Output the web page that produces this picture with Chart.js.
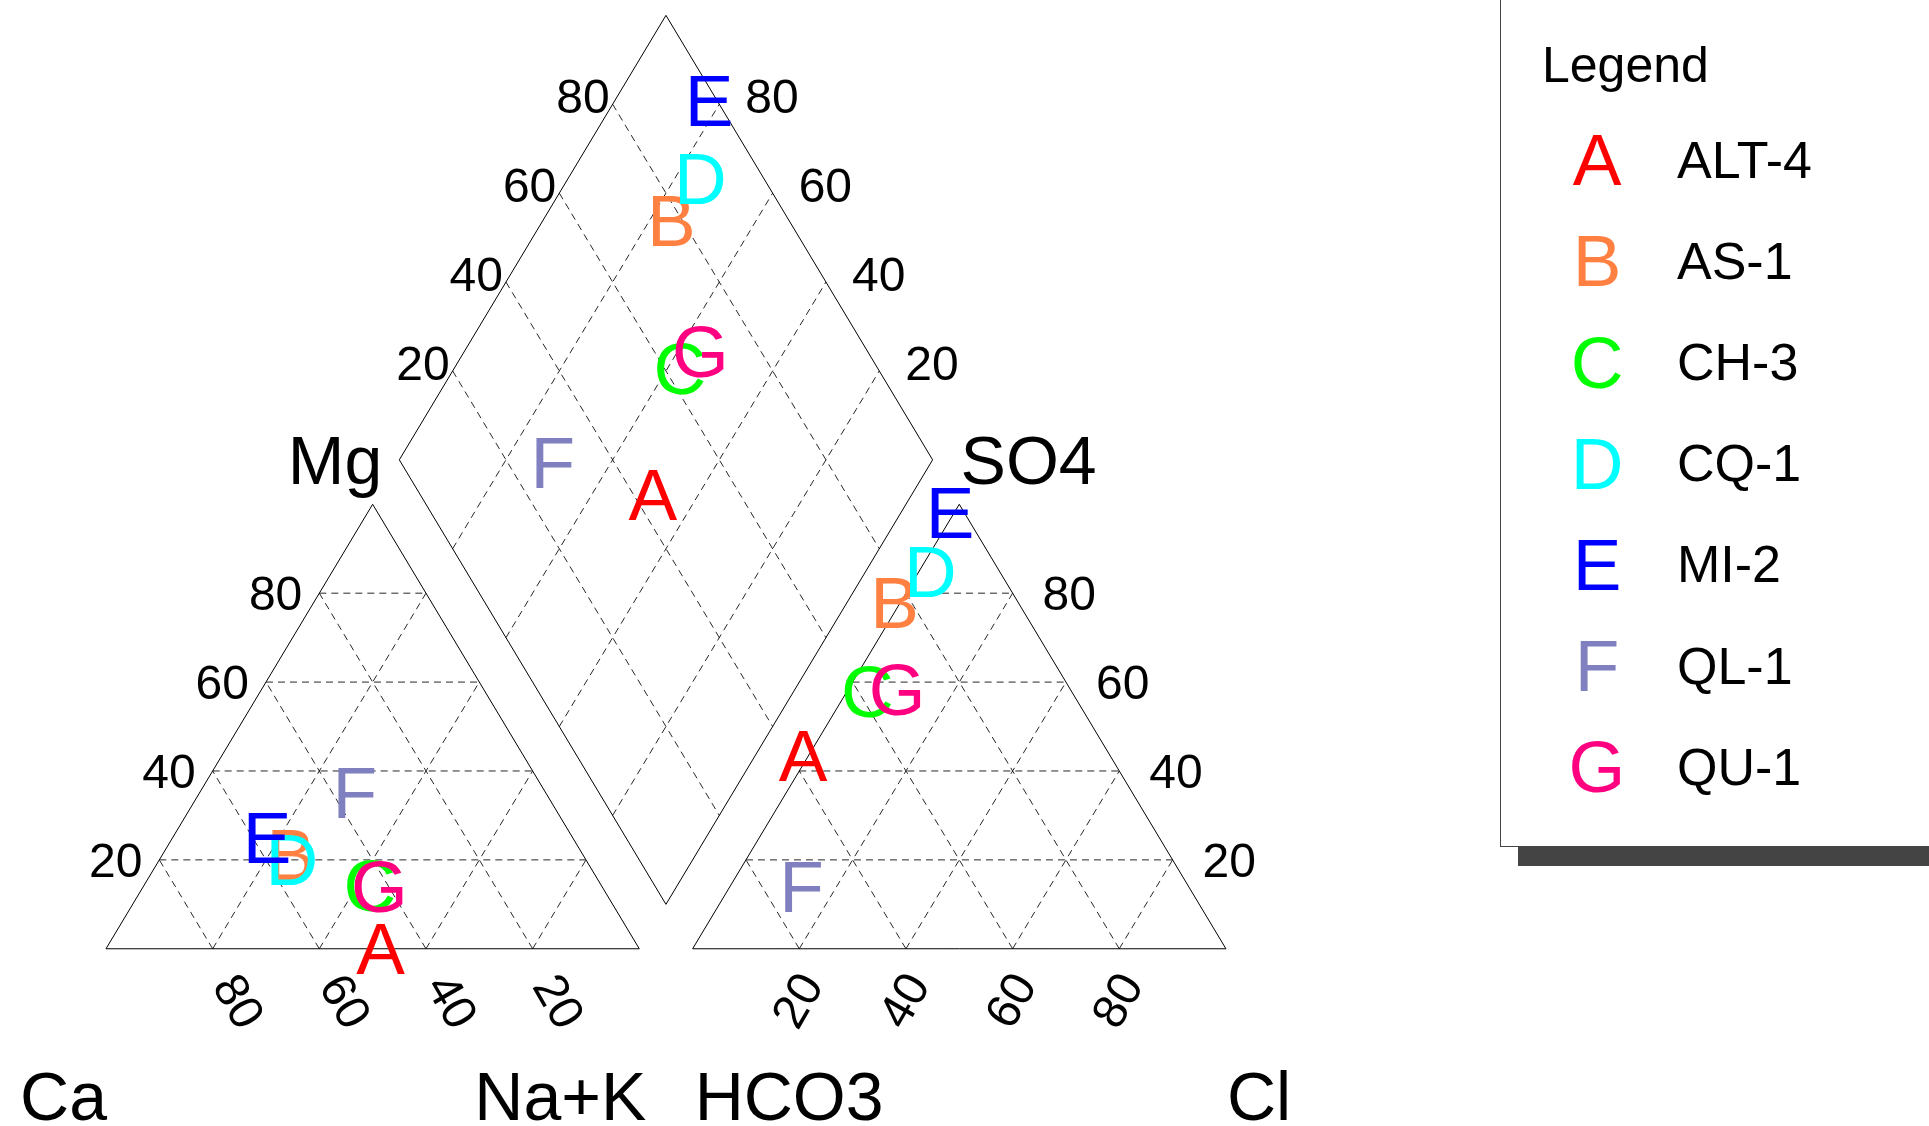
<!DOCTYPE html>
<html>
<head>
<meta charset="utf-8">
<script src="https://cdn.jsdelivr.net/npm/chart.js@4.4.1/dist/chart.umd.min.js"></script>
<style>
  html, body { margin: 0; padding: 0; background: #fff; }
  #wrap { width: 1929px; height: 1126px; position: relative; }
</style>
</head>
<body>
<div id="wrap"><canvas id="piper"></canvas></div>
<script>
// sample names and marker letters
const sampleNames = ["ALT-4", "AS-1", "CH-3", "CQ-1", "MI-2", "QL-1", "QU-1"];
const sampleLetters = ["A", "B", "C", "D", "E", "F", "G"];
const sampleColors = ["#ff0000", "#ff8040", "#00ff00", "#00ffff", "#0000ff", "#8080c0", "#ff0080"];

// cations, % meq
const caPct  = [48.4, 54.7, 43.3, 55.0, 57.2, 35.7, 41.7];
const mgPct  = [0.2, 21.3, 14.4, 20.3, 25.2, 35.3, 14.1];
const naKPct = [51.4, 24.0, 42.3, 24.7, 17.6, 29.0, 44.2];

// anions, % meq
const hco3Pct = [56.3, 22.0, 37.1, 11.8, 1.4, 71.4, 31.3];
const so4Pct  = [43.7, 78.0, 58.0, 85.0, 98.4, 14.1, 58.5];
const clPct   = [0.0, 0.0, 4.9, 3.2, 0.2, 14.5, 10.2];

// tick labels on every axis
const tickValues = [20, 40, 60, 80];

const GAP = 10; // gap between the two triangles, in percent of a side
const FONT = '"Liberation Sans", Arial, Helvetica, sans-serif';

// x: 0..100 left triangle, 110..210 right triangle; y: % of triangle height
function cationXY(ca, mg, na) {
   const t = ca + mg + na;
   mg = mg / t * 100; na = na / t * 100;
   return { x: na + mg / 2, y: mg };
}
function anionXY(hco3, so4, cl) {
   const t = hco3 + so4 + cl;
   so4 = so4 / t * 100; cl = cl / t * 100;
   return { x: 100 + GAP + cl + so4 / 2, y: so4 };
}
function diamondXY(na, s) {
   return { x: (na + 100 + GAP + s) / 2, y: 100 + GAP + s - na };
}

// outlines
const outlineLeft = [cationXY(100, 0, 0), cationXY(0, 0, 100), cationXY(0, 100, 0), cationXY(100, 0, 0)];
const outlineRight = [anionXY(100, 0, 0), anionXY(0, 0, 100), anionXY(0, 100, 0), anionXY(100, 0, 0)];
const outlineDiamond = [diamondXY(0, 0), diamondXY(100, 0), diamondXY(100, 100), diamondXY(0, 100), diamondXY(0, 0)];

// dashed grid, segments split by null points
const gridPts = [];
function seg(a, b) { gridPts.push(a, b, { x: b.x, y: null }); }
tickValues.forEach(v => {
   seg(cationXY(100 - v, v, 0), cationXY(0, v, 100 - v));
   seg(cationXY(100 - v, 0, v), cationXY(0, 100 - v, v));
   seg(cationXY(v, 0, 100 - v), cationXY(v, 100 - v, 0));
   seg(anionXY(100 - v, v, 0), anionXY(0, v, 100 - v));
   seg(anionXY(100 - v, 0, v), anionXY(0, 100 - v, v));
   seg(anionXY(v, 0, 100 - v), anionXY(v, 100 - v, 0));
   seg(diamondXY(v, 0), diamondXY(v, 100));
   seg(diamondXY(0, v), diamondXY(100, v));
});

const datasets = [
   { data: gridPts, showLine: true, spanGaps: false, borderColor: "rgba(0,0,0,0.85)", borderWidth: 1, borderDash: [7, 5], pointRadius: 0 },
   { data: outlineLeft, showLine: true, borderColor: "#000", borderWidth: 1, pointRadius: 0 },
   { data: outlineRight, showLine: true, borderColor: "#000", borderWidth: 1, pointRadius: 0 },
   { data: outlineDiamond, showLine: true, borderColor: "#000", borderWidth: 1, pointRadius: 0 },
];

sampleNames.forEach((name, i) => {
   const s = so4Pct[i] + clPct[i];
   const sNorm = s / (hco3Pct[i] + so4Pct[i] + clPct[i]) * 100;
   const naNorm = naKPct[i] / (caPct[i] + mgPct[i] + naKPct[i]) * 100;
   datasets.push({
      label: name,
      letter: sampleLetters[i],
      color: sampleColors[i],
      data: [
         cationXY(caPct[i], mgPct[i], naKPct[i]),
         anionXY(hco3Pct[i], so4Pct[i], clPct[i]),
         diamondXY(naNorm, sNorm),
      ],
      showLine: false,
      pointRadius: 0,
   });
});

// draws letters, tick labels, titles and the legend box
const piperText = {
   id: "piperText",
   afterDatasetsDraw(chart) {
      const ctx = chart.ctx;
      const sx = chart.scales.x, sy = chart.scales.y;
      const px = p => ({ x: sx.getPixelForValue(p.x), y: sy.getPixelForValue(p.y) });
      ctx.save();
      ctx.fillStyle = "#000";

      // text centred vertically on cap height
      function label(txt, x, y, size, align, rot) {
         ctx.save();
         ctx.font = size + "px " + FONT;
         ctx.textAlign = align;
         ctx.textBaseline = "alphabetic";
         ctx.translate(x, y);
         if (rot) ctx.rotate(rot);
         ctx.fillText(txt, 0, size * 0.716 / 2);
         ctx.restore();
      }

      // tick labels
      const tf = 48;
      tickValues.forEach(v => {
         let p = px(cationXY(100 - v, v, 0));
         label(String(v), p.x - 17, p.y, tf, "right");
         p = px(anionXY(0, v, 100 - v));
         label(String(v), p.x + 30, p.y, tf, "left");
         p = px(diamondXY(0, v));
         label(String(v), p.x - 3, p.y - 8, tf, "right");
         p = px(diamondXY(100 - v, 100));
         label(String(v), p.x + 26, p.y - 8, tf, "left");
         p = px(cationXY(v, 0, 100 - v));
         label(String(v), p.x + 27, p.y + 52, tf, "center", Math.PI / 3);
         p = px(anionXY(100 - v, 0, v));
         label(String(v), p.x - 3, p.y + 51, tf, "center", -Math.PI / 3);
      });

      // axis titles
      ctx.font = "68px " + FONT;
      ctx.textBaseline = "alphabetic";
      let p = px(diamondXY(0, 0));
      ctx.textAlign = "right"; ctx.fillText("Mg", p.x - 17, p.y + 24);
      p = px(diamondXY(100, 100));
      ctx.textAlign = "left"; ctx.fillText("SO4", p.x + 28, p.y + 24);
      p = px(cationXY(100, 0, 0));
      ctx.textAlign = "right"; ctx.fillText("Ca", p.x + 1, p.y + 171);
      p = px(cationXY(0, 0, 100));
      ctx.textAlign = "right"; ctx.fillText("Na+K", p.x + 7, p.y + 171);
      p = px(anionXY(100, 0, 0));
      ctx.textAlign = "left"; ctx.fillText("HCO3", p.x + 2, p.y + 171);
      p = px(anionXY(0, 0, 100));
      ctx.textAlign = "left"; ctx.fillText("Cl", p.x + 1, p.y + 171);

      // sample letters (anion marks sit a little left of their point in the original)
      chart.data.datasets.forEach((ds, i) => {
         if (!ds.letter) return;
         ctx.fillStyle = ds.color;
         ctx.font = "73px " + FONT;
         ctx.textAlign = "center";
         chart.getDatasetMeta(i).data.forEach((el, k) => {
            const dx = k === 1 ? -6 : 0;
            ctx.fillText(ds.letter, el.x + dx, el.y + 73 * 0.716 / 2);
         });
      });

      // legend box with shadow
      ctx.fillStyle = "#444";
      ctx.fillRect(1518, 847, 420, 19);
      ctx.fillStyle = "#fff";
      ctx.fillRect(1500, -10, 440, 856);
      ctx.strokeStyle = "#444";
      ctx.lineWidth = 1;
      ctx.strokeRect(1500.5, -10, 440, 856.5);

      ctx.fillStyle = "#000";
      ctx.font = "50px " + FONT;
      ctx.textAlign = "left";
      ctx.fillText("Legend", 1542, 82);
      sampleNames.forEach((name, i) => {
         const cy = 159 + i * 101.2;
         ctx.fillStyle = sampleColors[i];
         ctx.font = "73px " + FONT;
         ctx.textAlign = "center";
         ctx.fillText(sampleLetters[i], 1597, cy + 73 * 0.716 / 2);
         ctx.fillStyle = "#000";
         ctx.font = "52px " + FONT;
         ctx.textAlign = "left";
         ctx.fillText(name, 1677, cy + 52 * 0.716 / 2);
      });
      ctx.restore();
   },
};

new Chart(document.getElementById("piper"), {
   type: "scatter",
   data: { datasets: datasets },
   options: {
      responsive: true,
      maintainAspectRatio: false,
      animation: false,
      events: [],
      layout: { padding: 0 },
      scales: {
         x: { type: "linear", display: false, min: -19.875, max: 341.83 },
         y: { type: "linear", display: false, min: -39.87, max: 213.45 },
      },
      plugins: {
         legend: { display: false },
         tooltip: { enabled: false },
      },
   },
   plugins: [piperText],
});
</script>
</body>
</html>
